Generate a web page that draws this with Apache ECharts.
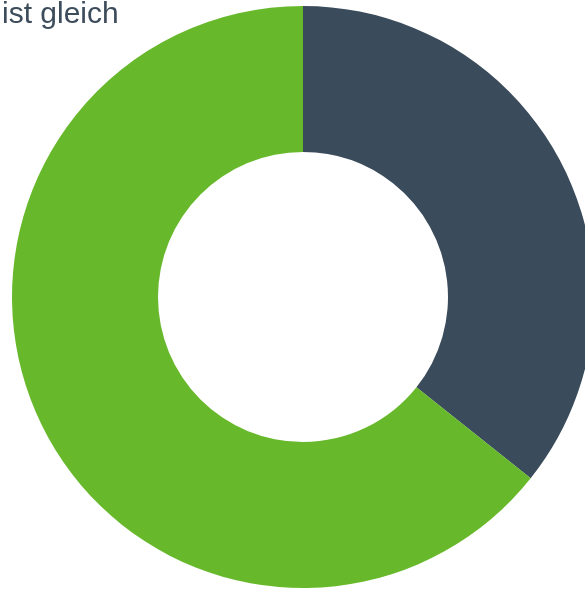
<!DOCTYPE html>
<html><head><meta charset="utf-8">
<script src="https://cdn.jsdelivr.net/npm/echarts@6/dist/echarts.min.js"></script>
<style>html,body{margin:0;padding:0;background:#fff}#c{width:585px;height:590px}</style>
</head><body><div id="c"></div>
<script>
const titleText = "ist gleich";
const categories = ["A", "B"];
const values = [35.7, 64.3];
const colors = ["#3a4b5b", "#67b92b"];

const chart = echarts.init(document.getElementById('c'));
chart.setOption({
  animation: false,
  title: { text: titleText, left: 2, top: 0, padding: 0,
    textStyle: { fontFamily: "Arial", fontSize: 30, fontWeight: "normal", color: "#3d4c5b" } },
  series: [{
    type: 'pie',
    center: [303, 297],
    radius: [145, 291],
    startAngle: 90,
    clockwise: true,
    label: { show: false },
    labelLine: { show: false },
    itemStyle: { borderWidth: 0 },
    emphasis: { disabled: true },
    data: categories.map((c, i) => ({ name: c, value: values[i], itemStyle: { color: colors[i] } }))
  }]
});
</script></body></html>
